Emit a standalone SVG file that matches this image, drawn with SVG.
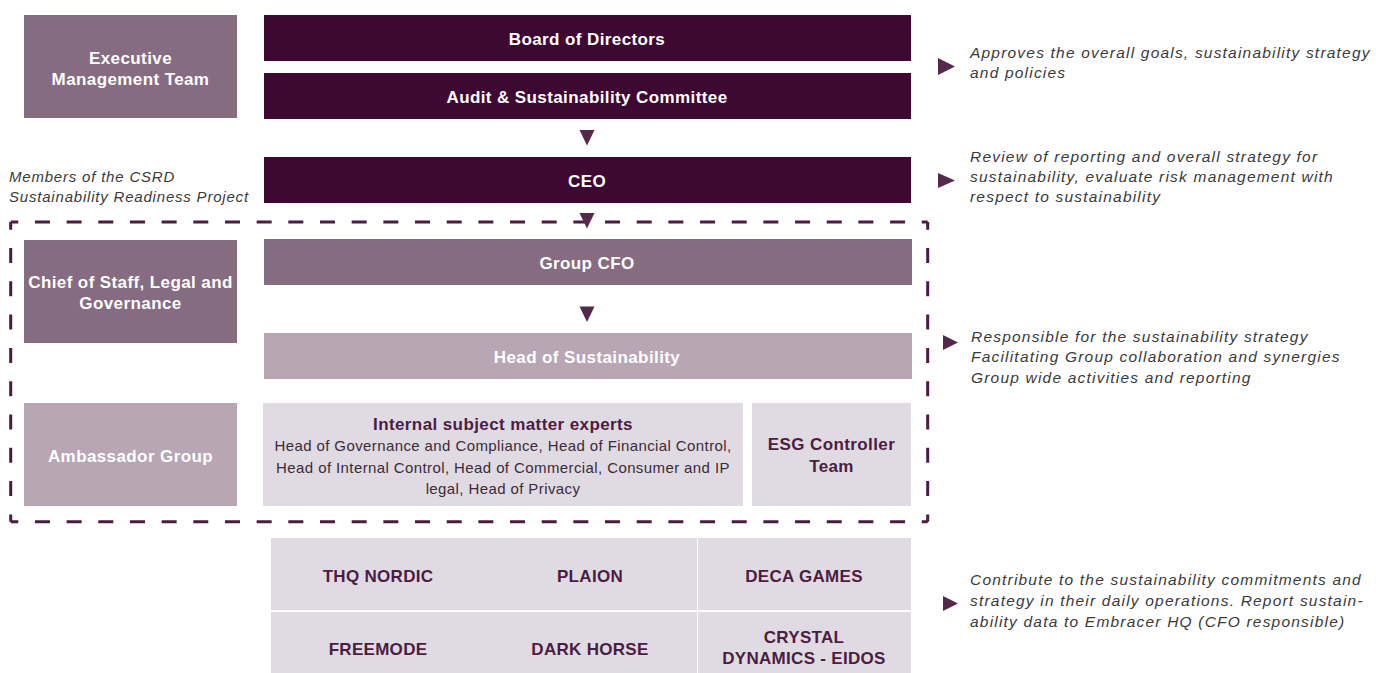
<svg xmlns="http://www.w3.org/2000/svg" width="1376" height="673" viewBox="0 0 1376 673">
<defs>
<style>
.dark{fill:#3d0832}
.med{fill:#856c80}
.light{fill:#b8a6b5}
.pale{fill:#e0dae2}
.wt{fill:#ffffff;font-family:"Liberation Sans",Arial,sans-serif;font-weight:bold;font-size:17px;letter-spacing:0.4px;text-anchor:middle}
.dt{fill:#4b1d43;font-family:"Liberation Sans",Arial,sans-serif;font-weight:bold;font-size:17px;letter-spacing:0.4px;text-anchor:middle}
.gt{fill:#4b1d43;font-family:"Liberation Sans",Arial,sans-serif;font-weight:bold;font-size:17px;letter-spacing:0.3px;text-anchor:middle}
.bt{fill:#3b2b38;font-family:"Liberation Sans",Arial,sans-serif;font-size:15px;letter-spacing:0.4px;text-anchor:middle}
.note{fill:#3a3a3a;font-family:"Liberation Sans",Arial,sans-serif;font-style:italic;font-size:15.5px;letter-spacing:1.2px}
.mnote{fill:#3a3a3a;font-family:"Liberation Sans",Arial,sans-serif;font-style:italic;font-size:15px;letter-spacing:0.8px}
.tri{fill:#55294a}
.dash{fill:none;stroke:#4a1c42;stroke-width:3}
</style>
</defs>
<rect width="1376" height="673" fill="#ffffff"/>

<g id="executive-management-team"><rect class="med" x="24" y="15" width="213" height="103"/><text class="wt" x="130.5" y="64">Executive</text><text class="wt" x="130.5" y="85">Management Team</text></g>
<g id="board-of-directors"><rect class="dark" x="264" y="15" width="647" height="46"/><text class="wt" x="587" y="45">Board of Directors</text></g>
<g id="audit-committee"><rect class="dark" x="264" y="73" width="647" height="46"/><text class="wt" x="587" y="103">Audit &amp; Sustainability Committee</text></g>
<g id="ceo"><rect class="dark" x="264" y="157" width="647" height="46"/><text class="wt" x="587" y="187">CEO</text></g>

<g id="csrd-label"><text class="mnote" x="9" y="182">Members of the CSRD</text><text class="mnote" x="9" y="202">Sustainability Readiness Project</text></g>

<g id="csrd-boundary">
<line class="dash" x1="10.7" y1="222" x2="927.7" y2="222" stroke-dasharray="15 16.67" stroke-dashoffset="7.4"/>
<line class="dash" x1="10.7" y1="521.7" x2="927.7" y2="521.7" stroke-dasharray="15 16.67" stroke-dashoffset="7.4"/>
<line class="dash" x1="10.7" y1="222" x2="10.7" y2="521.7" stroke-dasharray="15 18.3" stroke-dashoffset="7.3"/>
<line class="dash" x1="927.7" y1="222" x2="927.7" y2="521.7" stroke-dasharray="15 18.3" stroke-dashoffset="7.3"/>
</g>

<g id="chief-of-staff"><rect class="med" x="24" y="240" width="213" height="103"/><text class="wt" x="130.5" y="288">Chief of Staff, Legal and</text><text class="wt" x="130.5" y="309">Governance</text></g>
<g id="group-cfo"><rect class="med" x="264" y="239" width="648" height="46"/><text class="wt" x="587" y="269">Group CFO</text></g>
<g id="head-of-sustainability"><rect class="light" x="264" y="333" width="648" height="46"/><text class="wt" x="587" y="363">Head of Sustainability</text></g>
<g id="ambassador-group"><rect class="light" x="24" y="403" width="213" height="103"/><text class="wt" x="130.5" y="462">Ambassador Group</text></g>
<g id="internal-experts"><rect class="pale" x="263" y="403" width="480" height="103"/><text class="dt" x="503" y="430">Internal subject matter experts</text><text class="bt" x="503" y="451">Head of Governance and Compliance, Head of Financial Control,</text><text class="bt" x="503" y="473">Head of Internal Control, Head of Commercial, Consumer and IP</text><text class="bt" x="503" y="494">legal, Head of Privacy</text></g>
<g id="esg-controller"><rect class="pale" x="752" y="403" width="159" height="103"/><text class="dt" x="831.5" y="450">ESG Controller</text><text class="dt" x="831.5" y="472">Team</text></g>

<g id="thq-nordic"><rect class="pale" x="271" y="538" width="213" height="72"/><text class="gt" x="378" y="582">THQ NORDIC</text></g>
<g id="plaion"><rect class="pale" x="483" y="538" width="214" height="72"/><text class="gt" x="590" y="582">PLAION</text></g>
<g id="deca-games"><rect class="pale" x="698" y="538" width="213" height="72"/><text class="gt" x="804" y="582">DECA GAMES</text></g>
<g id="freemode"><rect class="pale" x="271" y="612" width="213" height="61"/><text class="gt" x="378" y="655">FREEMODE</text></g>
<g id="dark-horse"><rect class="pale" x="483" y="612" width="214" height="61"/><text class="gt" x="590" y="655">DARK HORSE</text></g>
<g id="crystal-dynamics"><rect class="pale" x="698" y="612" width="213" height="61"/><text class="gt" x="804" y="643">CRYSTAL</text><text class="gt" x="804" y="664">DYNAMICS - EIDOS</text></g>

<g id="connectors">
<polygon class="tri" points="579.5,130 594.5,130 587,145.5"/>
<polygon class="tri" points="579.5,213 594.5,213 587,228.5"/>
<polygon class="tri" points="579.5,306.5 594.5,306.5 587,322"/>
<polygon class="tri" points="938,58 955,66.5 938,75"/>
<polygon class="tri" points="938,173 955,180.5 938,188"/>
<polygon class="tri" points="943,335 958,342.5 943,350"/>
<polygon class="tri" points="943,596 958,603.5 943,611"/>
</g>

<g id="notes">
<text class="note" x="970" y="58">Approves the overall goals, sustainability strategy</text>
<text class="note" x="970" y="78">and policies</text>
<text class="note" x="970" y="162">Review of reporting and overall strategy for</text>
<text class="note" x="970" y="182">sustainability, evaluate risk management with</text>
<text class="note" x="970" y="202">respect to sustainability</text>
<text class="note" x="971" y="342">Responsible for the sustainability strategy</text>
<text class="note" x="971" y="362">Facilitating Group collaboration and synergies</text>
<text class="note" x="971" y="383">Group wide activities and reporting</text>
<text class="note" x="970" y="585">Contribute to the sustainability commitments and</text>
<text class="note" x="970" y="606">strategy in their daily operations. Report sustain-</text>
<text class="note" x="970" y="627">ability data to Embracer HQ (CFO responsible)</text>
</g>
</svg>
